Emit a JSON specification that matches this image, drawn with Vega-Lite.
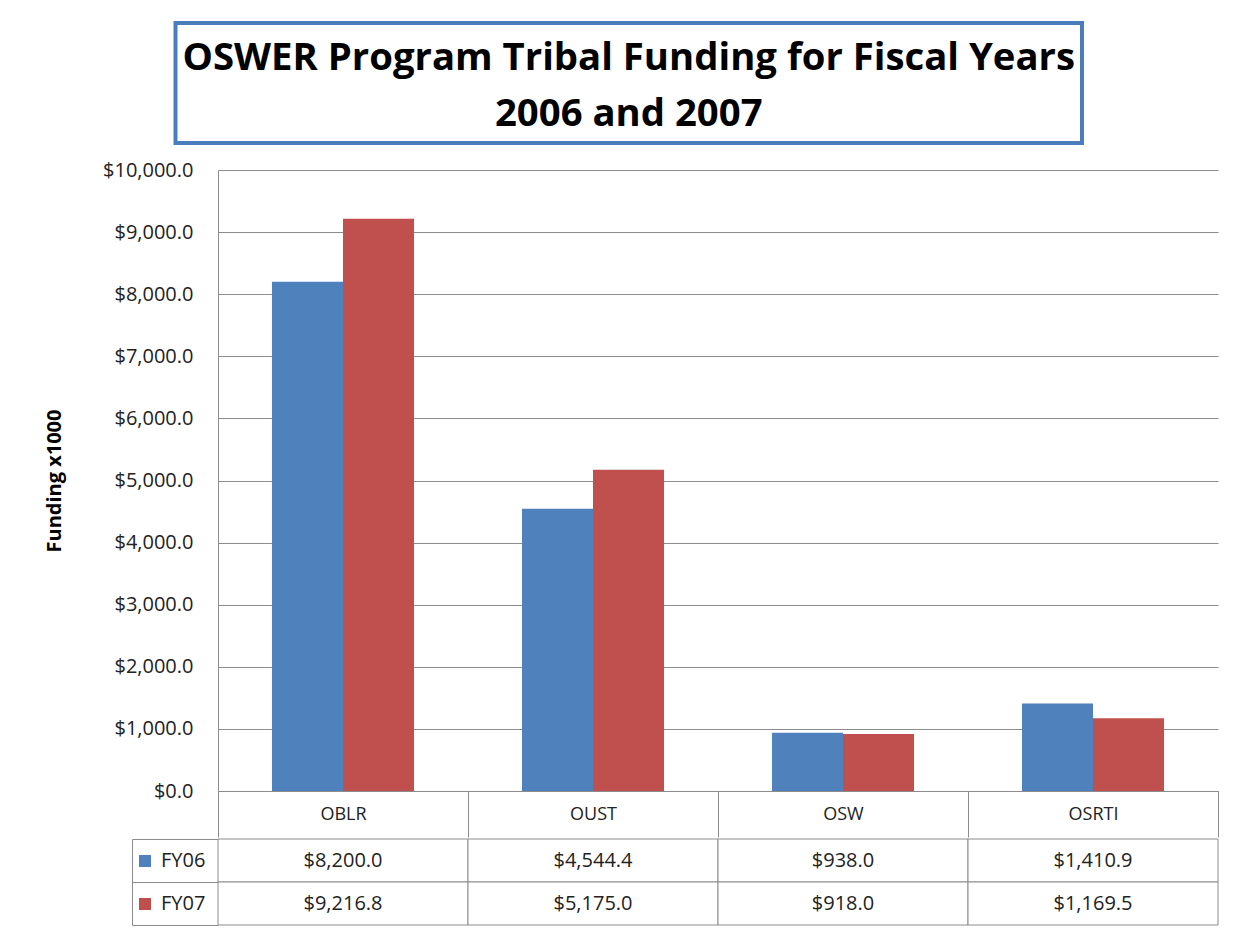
{
  "$schema": "https://vega.github.io/schema/vega-lite/v6.json",
  "padding": {"left": 44, "top": 21, "right": 0, "bottom": 0},
  "background": "white",
  "config": {"font": "Open Sans", "view": {"stroke": null}},
  "datasets": {
    "funding": [
      {"program": "OBLR", "year": "FY06", "amount": 8200.0},
      {"program": "OBLR", "year": "FY07", "amount": 9216.8},
      {"program": "OUST", "year": "FY06", "amount": 4544.4},
      {"program": "OUST", "year": "FY07", "amount": 5175.0},
      {"program": "OSW", "year": "FY06", "amount": 938.0},
      {"program": "OSW", "year": "FY07", "amount": 918.0},
      {"program": "OSRTI", "year": "FY06", "amount": 1410.9},
      {"program": "OSRTI", "year": "FY07", "amount": 1169.5}
    ],
    "titleLines": [
      {"line": 1, "text": "OSWER Program Tribal Funding for Fiscal Years"},
      {"line": 2, "text": "2006 and 2007"}
    ]
  },
  "spacing": 0,
  "resolve": {"scale": {"color": "independent"}},
  "vconcat": [
    {
      "width": 864,
      "height": 120,
      "data": {"name": "titleLines"},
      "layer": [
        {
          "transform": [{"filter": "datum.line === 1"}],
          "mark": {"type": "rect", "fill": "white", "stroke": "#4a7ebb", "strokeWidth": 4},
          "encoding": {
            "x": {"datum": "t", "type": "nominal", "scale": {"range": [-42.5, 864], "paddingInner": 0, "paddingOuter": 0},
                  "axis": {"labels": false, "ticks": false, "domain": false, "title": null, "minExtent": 17, "maxExtent": 17}}
          }
        },
        {
          "mark": {"type": "text", "font": "Open Sans", "fontWeight": "bold", "fontSize": 38.3, "baseline": "alphabetic", "align": "center", "color": "#000000"},
          "encoding": {
            "x": {"datum": "t", "type": "nominal"},
            "y": {"field": "line", "type": "ordinal", "scale": {"type": "point", "padding": 0.571, "align": 0.734}, "axis": null},
            "text": {"field": "text"}
          }
        }
      ]
    },
    {
      "width": 1000,
      "height": 621,
      "data": {"name": "funding"},
      "mark": {"type": "bar"},
      "encoding": {
        "x": {"field": "program", "type": "nominal", "sort": ["OBLR", "OUST", "OSW", "OSRTI"],
              "scale": {"paddingInner": 0, "paddingOuter": 0},
              "axis": {"title": null, "domain": true, "domainColor": "#8c8c8c", "ticks": true, "tickBand": "extent", "tickSize": 46, "tickColor": "#8c8c8c",
                       "labelPadding": -23, "labelBaseline": "middle", "labelAngle": 0, "labelFontSize": 18, "labelColor": "#222222", "labelFont": "Open Sans",
                       "minExtent": 46, "maxExtent": 46, "grid": false}},
        "xOffset": {"field": "year", "type": "nominal", "sort": ["FY06", "FY07"], "scale": {"paddingInner": 0, "paddingOuter": 0.76}},
        "y": {"field": "amount", "type": "quantitative", "stack": null, "scale": {"domain": [0, 10000], "nice": false},
              "axis": {"values": [0, 1000, 2000, 3000, 4000, 5000, 6000, 7000, 8000, 9000, 10000], "format": "$,.1f",
                       "title": "Funding x1000", "titleFontSize": 20, "titleFontWeight": "bold", "titleColor": "#000000", "titleFont": "Open Sans", "titlePadding": 23.5,
                       "labelFontSize": 20, "labelColor": "#222222", "labelFont": "Open Sans", "labelPadding": 25, "ticks": false,
                       "domain": true, "domainColor": "#8c8c8c", "grid": true, "gridColor": "#8c8c8c", "minExtent": 130, "maxExtent": 130}},
        "color": {"field": "year", "type": "nominal", "scale": {"domain": ["FY06", "FY07"], "range": ["#4F81BD", "#C0504D"]}, "legend": null}
      }
    },
    {
      "width": 1000,
      "height": 86,
      "data": {"name": "funding"},
      "layer": [
        {
          "mark": {"type": "rect", "fill": "white", "stroke": "#8c8c8c", "strokeWidth": 1},
          "encoding": {
            "x": {"field": "program", "type": "nominal", "sort": ["OBLR", "OUST", "OSW", "OSRTI"], "scale": {"paddingInner": 0, "paddingOuter": 0}, "axis": null},
            "y": {"field": "year", "type": "nominal", "sort": ["FY06", "FY07"], "scale": {"paddingInner": 0, "paddingOuter": 0},
                  "axis": {"title": null, "labels": false, "domain": true, "domainColor": "#8c8c8c", "offset": 86, "ticks": true, "tickBand": "extent",
                           "tickSize": -86, "tickColor": "#8c8c8c", "minExtent": 88, "maxExtent": 88, "grid": false}}
          }
        },
        {
          "mark": {"type": "text", "fontSize": 20, "font": "Open Sans", "color": "#222222"},
          "encoding": {
            "x": {"field": "program", "type": "nominal", "sort": ["OBLR", "OUST", "OSW", "OSRTI"]},
            "y": {"field": "year", "type": "nominal", "sort": ["FY06", "FY07"]},
            "text": {"field": "amount", "type": "quantitative", "format": "$,.1f"}
          }
        },
        {
          "mark": {"type": "square", "opacity": 0},
          "encoding": {
            "x": {"field": "program", "type": "nominal", "sort": ["OBLR", "OUST", "OSW", "OSRTI"]},
            "y": {"field": "year", "type": "nominal", "sort": ["FY06", "FY07"]},
            "color": {"field": "year", "type": "nominal", "scale": {"domain": ["FY06", "FY07"], "range": ["#4F81BD", "#C0504D"]},
                      "legend": {"orient": "none", "legendX": -83, "legendY": 12, "title": null, "symbolType": "square", "symbolSize": 144,
                                 "symbolOpacity": 1, "symbolStrokeWidth": 0, "labelFontSize": 20, "labelFont": "Open Sans", "labelColor": "#222222",
                                 "labelOffset": 6, "rowPadding": 23, "direction": "vertical"}}
          }
        }
      ]
    }
  ]
}
